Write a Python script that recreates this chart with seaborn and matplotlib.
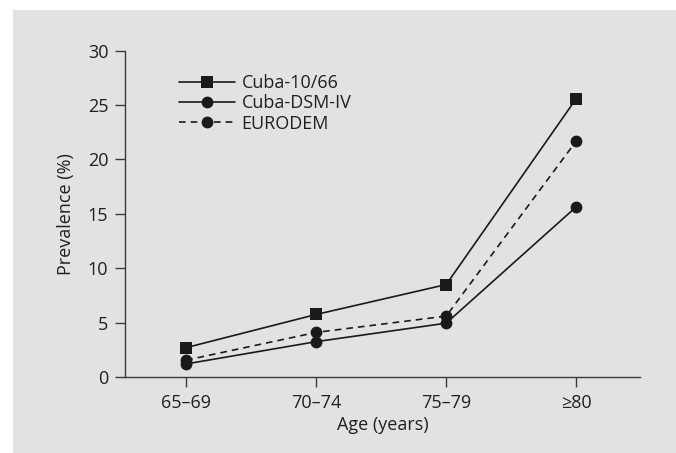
import pandas as pd
import matplotlib.pyplot as plt
import seaborn as sns
from matplotlib.patches import Rectangle

sns.set_theme(style="ticks")
plt.rcParams['font.family'] = ['Open Sans', 'DejaVu Sans']

# Data
age_groups = ['65–69', '70–74', '75–79', '≥80']
cuba_1066 = [2.7, 5.75, 8.5, 25.6]
cuba_dsm4 = [1.2, 3.25, 4.95, 15.65]
eurodem = [1.55, 4.1, 5.6, 21.7]

text_col = '#231f20'
bg = '#e1e2e4'

fig = plt.figure(figsize=(6.76, 4.53), dpi=100)
fig.patch.set_facecolor('white')
fig.patches.append(Rectangle((13 / 676, 0), 1 - 13 / 676, 1 - 10 / 453,
                             transform=fig.transFigure, facecolor=bg,
                             edgecolor='none', zorder=-10))

ax = fig.add_axes([125 / 676, 1 - 377 / 453, (640 - 125) / 676, (377 - 50.7) / 453])
ax.set_facecolor('none')

df = pd.DataFrame({'age': age_groups, 'c1066': cuba_1066,
                   'dsm': cuba_dsm4, 'euro': eurodem})

sns.lineplot(data=df, x='age', y='c1066', ax=ax, sort=False, color='#1a1a1a',
             lw=1.2, marker='s', markersize=8.5, markeredgewidth=0,
             label='Cuba-10/66')
sns.lineplot(data=df, x='age', y='dsm', ax=ax, sort=False, color='#1a1a1a',
             lw=1.2, marker='o', markersize=8.5, markeredgewidth=0,
             label='Cuba-DSM-IV')
sns.lineplot(data=df, x='age', y='euro', ax=ax, sort=False, color='#1a1a1a',
             lw=1.2, ls=(0, (4, 3)), marker='o', markersize=8.5,
             markeredgewidth=0, label='EURODEM')

ax.set_xlim(-0.47, 3.49)
ax.set_ylim(0, 30)
ax.set_yticks([0, 5, 10, 15, 20, 25, 30])
sns.despine(ax=ax)
for s in ['left', 'bottom']:
    ax.spines[s].set_color('#3a3a3a')
    ax.spines[s].set_linewidth(1.0)
ax.tick_params(axis='both', colors='#3a3a3a', labelcolor=text_col,
               labelsize=13, length=7, width=1.0, pad=5)

ax.set_xlabel('Age (years)', fontsize=13, color=text_col, labelpad=3)
ax.set_ylabel('Prevalence (%)', fontsize=13, color=text_col, labelpad=9)

leg = ax.legend(loc='upper left', bbox_to_anchor=(0.091, 0.95), frameon=False,
                fontsize=13, handlelength=3.1, handletextpad=0.35,
                labelspacing=0.12, borderaxespad=0)
for t in leg.get_texts():
    t.set_color(text_col)

fig.savefig('out.png', dpi=100)
